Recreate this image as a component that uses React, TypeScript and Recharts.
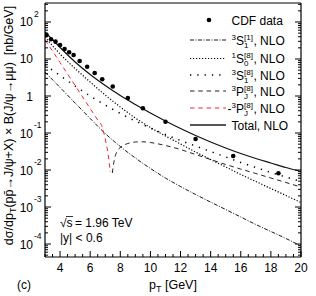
import React from "react";
import { ComposedChart, Line, Scatter, XAxis, YAxis, Legend } from "recharts";

// CDF Run II J/psi data, pT in GeV, dsigma/dpT x B in nb/GeV
const cdfPt = [3.1, 3.4, 3.7, 4.0, 4.3, 4.6, 4.9, 5.3, 5.8, 6.3, 6.8, 7.5, 8.5, 9.5, 11, 13, 15.5, 18.5];
const cdfSigma = [44.6, 34.1, 29.4, 23.9, 18.6, 15.2, 12.8, 8.83, 6.19, 4.18, 2.83, 1.81, 0.883, 0.466, 0.202, 0.0689, 0.0239, 0.00815];

// NLO curves on a 1 GeV grid
const nloPt = [3, 4, 5, 6, 7, 8, 9, 10, 11, 12, 13, 14, 15, 16, 17, 18, 19, 20];
const singlet = [4.46, 1.7, 0.647, 0.247, 0.0969, 0.0432, 0.0211, 0.011, 0.00608, 0.00358, 0.00218, 0.00136, 8.56e-4, 5.37e-4, 3.37e-4, 2.18e-4, 1.41e-4, 8.83e-5];
const s0Octet = [39.4, 13.6, 5.53, 2.39, 1.06, 0.505, 0.254, 0.141, 0.083, 0.0505, 0.0306, 0.0192, 0.0121, 0.00755, 0.00489, 0.00316, 0.00205, 0.00132];
const s1Octet = [6.89, 3.58, 1.86, 1.0, 0.571, 0.337, 0.211, 0.136, 0.091, 0.0627, 0.0445, 0.0316, 0.0225, 0.016, 0.0117, 0.00856, 0.00647, 0.00489];
const totalNlo = [53.7, 20.5, 8.3, 3.81, 1.92, 1.03, 0.589, 0.347, 0.211, 0.132, 0.0855, 0.0571, 0.0394, 0.0279, 0.0205, 0.0155, 0.0117, 0.0091];

// 3PJ[8]: negative below ~7.4 GeV (drawn as -3PJ), positive above
const pjNegPt = [3, 3.5, 4, 4.5, 5, 5.5, 6, 6.5, 6.8, 7.0, 7.2, 7.33];
const pjNeg = [32.6, 16.4, 8.04, 3.93, 1.92, 0.94, 0.459, 0.224, 0.145, 0.0689, 0.0254, 0.00883];
const pjPosPt = [7.47, 7.6, 7.8, 8, 8.5, 9, 9.5, 10, 11, 12, 13, 14, 15, 16, 17, 18, 19, 20];
const pjPos = [0.0083, 0.0186, 0.0327, 0.0406, 0.052, 0.0571, 0.0578, 0.0553, 0.0459, 0.0358, 0.0262, 0.0192, 0.0141, 0.0106, 0.00804, 0.00608, 0.00459, 0.00347];

const xMajorTicks = [4, 6, 8, 10, 12, 14, 16, 18, 20];
const yDecades = [-4, -3, -2, -1, 0, 1, 2];

const X_DOMAIN: [number, number] = [3, 20];
const Y_DOMAIN: [number, number] = [4.46e-5, 326];
const FONT = "'Liberation Sans', Arial, Helvetica, sans-serif";
const RED = "#ff2222";

const pts = (xs: number[], ys: number[]) => xs.map((pt, i) => ({ pt, v: ys[i] }));

const xTicks: number[] = [];
for (let v = X_DOMAIN[0]; v <= X_DOMAIN[1] + 1e-9; v += 0.5) xTicks.push(v);

const yTicks: number[] = [];
for (let k = yDecades[0] - 1; k <= yDecades[yDecades.length - 1]; k++) {
  for (let m = 1; m <= 9; m++) {
    const v = Number((m * Math.pow(10, k)).toPrecision(3));
    if (v >= Y_DOMAIN[0] && v <= Y_DOMAIN[1]) yTicks.push(v);
  }
}

const isDecade = (v: number) => {
  const e = Math.log10(v);
  return Math.abs(e - Math.round(e)) < 1e-6;
};

const BottomTick = (props: any) => {
  const { x, y, payload } = props;
  const v = payload.value;
  const major = xMajorTicks.includes(v);
  return (
    <g>
      <line x1={x} x2={x} y1={y} y2={y - (major ? 6 : 3)} stroke="#000" />
      {major && (
        <text x={x} y={y + 15} textAnchor="middle" fontSize={12} fontFamily={FONT} fill="#000">
          {v}
        </text>
      )}
    </g>
  );
};

const TopTick = (props: any) => {
  const { x, y, payload } = props;
  const major = xMajorTicks.includes(payload.value);
  return <line x1={x} x2={x} y1={y} y2={y + (major ? 6 : 3)} stroke="#000" />;
};

const LeftTick = (props: any) => {
  const { x, y, payload } = props;
  const v = payload.value;
  const major = isDecade(v);
  const n = Math.round(Math.log10(v));
  return (
    <g>
      <line x1={x} x2={x + (major ? 6 : 3)} y1={y} y2={y} stroke="#000" />
      {major && (
        <g fontFamily={FONT} fill="#000">
          <text x={x - 12} y={y + 4.5} textAnchor="end" fontSize={12}>
            {n === 0 ? "1" : "10"}
          </text>
          {n !== 0 && n !== 1 && (
            <text x={x - 11} y={y - 5} fontSize={8.5}>
              {n}
            </text>
          )}
        </g>
      )}
    </g>
  );
};

const RightTick = (props: any) => {
  const { x, y, payload } = props;
  const major = isDecade(payload.value);
  return <line x1={x} x2={x - (major ? 6 : 3)} y1={y} y2={y} stroke="#000" />;
};

// spectroscopic term like 3S1[8]
const Term = ({ x, y, pre, letter, sub, sup, subW, supW, minus }: any) => (
  <text x={x} y={y} fontSize={12} fontFamily={FONT} fill="#000">
    {minus ? "-" : ""}
    <tspan fontSize={8} dy={-5}>{pre}</tspan>
    <tspan fontSize={12} dy={5}>{letter}</tspan>
    <tspan fontSize={8} dy={-5}>{sup}</tspan>
    <tspan fontSize={8} dx={-supW} dy={8}>{sub}</tspan>
    <tspan fontSize={12} dx={supW - subW + 0.5} dy={-3}>, NLO</tspan>
  </text>
);

const legendRows = [
  { y: 40, stroke: "#000", width: 0.9, dash: "4 1.5 1 1.5", pre: "3", letter: "S", sub: "1", sup: "[1]", subW: 4.4 },
  { y: 58.5, stroke: "#000", width: 1.2, dash: "1.2 1.8", pre: "1", letter: "S", sub: "0", sup: "[8]", subW: 4.4 },
  { y: 75, stroke: "#000", width: 1.5, dash: "1.3 6", pre: "3", letter: "S", sub: "1", sup: "[8]", subW: 4.4 },
  { y: 91, stroke: "#222", width: 1, dash: "4.5 3.8", pre: "3", letter: "P", sub: "J", sup: "[8]", subW: 4 },
  { y: 108, stroke: RED, width: 1, dash: "4.5 3.8", pre: "3", letter: "P", sub: "J", sup: "[8]", subW: 4, minus: true },
];

const LegendBox = () => (
  <svg width={316} height={140} style={{ display: "block" }}>
    <circle cx={209} cy={20} r={2.3} fill="#000" />
    <text x={231.5} y={24.5} fontSize={12} fontFamily={FONT} fill="#000">
      CDF data
    </text>
    {legendRows.map((r, i) => (
      <g key={i}>
        <line x1={190} x2={226} y1={r.y} y2={r.y} stroke={r.stroke} strokeWidth={r.width} strokeDasharray={r.dash} />
        <Term
          x={r.minus ? 227.5 : 231.5}
          y={r.y + 4.5}
          pre={r.pre}
          letter={r.letter}
          sub={r.sub}
          sup={r.sup}
          subW={r.subW}
          supW={8.9}
          minus={r.minus}
        />
      </g>
    ))}
    <line x1={190} x2={226} y1={125} y2={125} stroke="#555" strokeWidth={1.8} />
    <text x={231.5} y={129.5} fontSize={12} fontFamily={FONT} fill="#000">
      Total, NLO
    </text>
  </svg>
);

const Labels = () => (
  <svg width={316} height={296} style={{ position: "absolute", left: 0, top: 0, pointerEvents: "none" }}>
    <g fontFamily={FONT} fill="#000">
      <text
        transform="rotate(-90)"
        x={-125.5}
        y={12.5}
        textAnchor="middle"
        fontSize={12.5}
        style={{ whiteSpace: "pre" }}
      >
        dσ/dp<tspan fontSize={9} dy={3}>T</tspan>
        <tspan dy={-3}>(pp̄→J/ψ+X) × B(J/ψ→μμ)  [nb/GeV]</tspan>
      </text>
      <text x={173} y={289} textAnchor="middle" fontSize={12.5}>
        p<tspan fontSize={9} dy={3}>T</tspan>
        <tspan dy={-3}> [GeV]</tspan>
      </text>
      <text x={17} y={289} fontSize={12}>
        (c)
      </text>
      <text x={60} y={227} fontSize={12}>√</text>
      <text x={66.5} y={227} fontSize={12}>s</text>
      <line x1={66} x2={73} y1={216.5} y2={216.5} stroke="#000" strokeWidth={0.8} />
      <text x={75} y={227} fontSize={12}>= 1.96 TeV</text>
      <text x={60} y={242} fontSize={12}>|y| &lt; 0.6</text>
    </g>
  </svg>
);

const Dot = (p: any) => <circle cx={p.cx} cy={p.cy} r={2.3} fill="#000" />;

export default function App() {
  const common = {
    xAxisId: "b",
    yAxisId: "l",
    dataKey: "v",
    type: "monotone" as const,
    dot: false,
    activeDot: false,
    isAnimationActive: false,
  };
  return (
    <div style={{ position: "absolute", left: 0, top: 0, width: 316, height: 296, background: "#fff" }}>
      <ComposedChart width={316} height={296} margin={{ top: 2, right: 14, bottom: 38, left: 0 }}>
        <XAxis
          xAxisId="b"
          dataKey="pt"
          type="number"
          domain={X_DOMAIN}
          allowDataOverflow
          ticks={xTicks}
          interval={0}
          tickSize={0}
          tickMargin={0}
          tickLine={false}
          height={1}
          axisLine={{ stroke: "#000", strokeWidth: 1.2 }}
          tick={BottomTick}
        />
        <XAxis
          xAxisId="t"
          orientation="top"
          type="number"
          domain={X_DOMAIN}
          allowDataOverflow
          ticks={xTicks}
          interval={0}
          tickSize={0}
          tickMargin={0}
          tickLine={false}
          height={1}
          axisLine={{ stroke: "#000", strokeWidth: 1.2 }}
          tick={TopTick}
        />
        <YAxis
          yAxisId="l"
          type="number"
          scale="log"
          domain={Y_DOMAIN}
          allowDataOverflow
          ticks={yTicks}
          interval={0}
          tickSize={0}
          tickMargin={0}
          tickLine={false}
          width={45}
          axisLine={{ stroke: "#000", strokeWidth: 1.2 }}
          tick={LeftTick}
        />
        <YAxis
          yAxisId="r"
          orientation="right"
          type="number"
          scale="log"
          domain={Y_DOMAIN}
          allowDataOverflow
          ticks={yTicks}
          interval={0}
          tickSize={0}
          tickMargin={0}
          tickLine={false}
          width={1}
          axisLine={{ stroke: "#000", strokeWidth: 1.2 }}
          tick={RightTick}
        />
        <Legend
          layout="vertical"
          align="center"
          verticalAlign="middle"
          content={() => <LegendBox />}
          wrapperStyle={{ position: "absolute", left: 0, top: 0, width: 316, height: 140 }}
        />
        <Line {...common} data={pts(nloPt, singlet)} stroke="#000" strokeWidth={0.9} strokeDasharray="4 1.5 1 1.5" />
        <Line {...common} data={pts(nloPt, s0Octet)} stroke="#000" strokeWidth={1.2} strokeDasharray="1.2 1.8" />
        <Line {...common} data={pts(nloPt, s1Octet)} stroke="#000" strokeWidth={1.5} strokeDasharray="1.3 6" />
        <Line {...common} data={pts(pjPosPt, pjPos)} stroke="#222" strokeWidth={1} strokeDasharray="4.5 3.8" />
        <Line {...common} data={pts(pjNegPt, pjNeg)} stroke={RED} strokeWidth={1} strokeDasharray="4.5 3.8" />
        <Line {...common} data={pts(nloPt, totalNlo)} stroke="#111" strokeWidth={1.2} />
        <Scatter
          xAxisId="b"
          yAxisId="l"
          data={pts(cdfPt, cdfSigma)}
          dataKey="v"
          shape={Dot}
          isAnimationActive={false}
        />
      </ComposedChart>
      <Labels />
    </div>
  );
}
